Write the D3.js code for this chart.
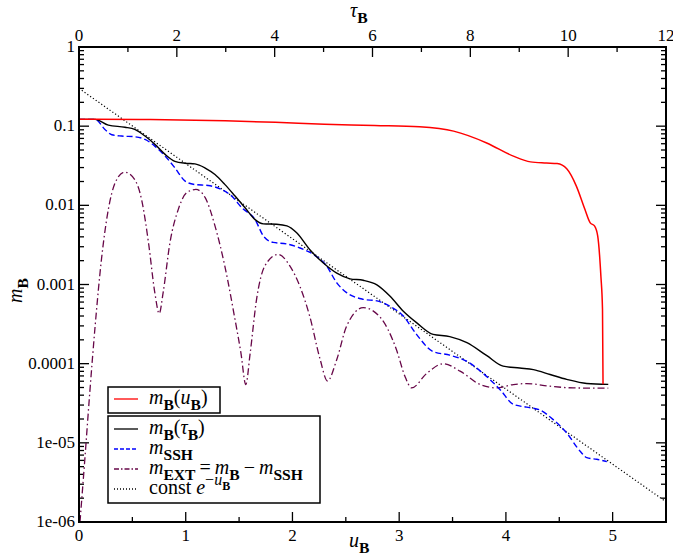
<!DOCTYPE html>
<html>
<head>
<meta charset="utf-8">
<script src="https://cdn.jsdelivr.net/npm/d3@7"></script>
<style>
  body { margin: 0; background: #fff; }
</style>
</head>
<body>
<div id="chart"></div>
<script>
// m_B against u_B (bottom axis)
var redU = [0, 0.15, 0.67, 1.37, 1.84, 2.30, 2.77, 3.19, 3.51, 3.82, 4.07, 4.23, 4.38, 4.48, 4.57, 4.66, 4.74, 4.79, 4.83, 4.86, 4.89, 4.905, 4.91];
var redM = [0.122, 0.122, 0.121, 0.117, 0.112, 0.106, 0.102, 0.098, 0.0866, 0.0614, 0.0418, 0.0354, 0.0343, 0.0337, 0.0289, 0.0175, 0.0089, 0.006, 0.0055, 0.0041, 0.00127, 0.00049, 0.000055];

// curves against tau_B (top axis)
var blackTau = [0, 0.33, 0.60, 0.94, 1.14, 1.35, 1.55, 1.76, 1.96, 2.17, 2.37, 2.58, 2.78, 2.98, 3.19, 3.39, 3.60, 3.77, 4.04, 4.25, 4.45, 4.72, 4.99, 5.27, 5.54, 5.81, 6.09, 6.36, 6.63, 6.90, 7.24, 7.58, 7.93, 8.33, 8.67, 9.01, 9.29, 9.63, 9.97, 10.38, 10.82];
var blackM = [0.122, 0.122, 0.103, 0.097, 0.091, 0.075, 0.059, 0.044, 0.036, 0.034, 0.0334, 0.0296, 0.0245, 0.0184, 0.0131, 0.0094, 0.0066, 0.00584, 0.00576, 0.0055, 0.0045, 0.00275, 0.00188, 0.00139, 0.00118, 0.00113, 0.00099, 0.00071, 0.00046, 0.00033, 0.000234, 0.00022, 0.000184, 0.000127, 0.000093, 0.000088, 0.000084, 0.000073, 0.0000633, 0.0000562, 0.0000548];

var sshTau = [0, 0.33, 0.53, 0.67, 0.87, 1.14, 1.35, 1.55, 1.76, 1.96, 2.17, 2.37, 2.64, 2.92, 3.12, 3.33, 3.60, 3.77, 3.97, 4.25, 4.52, 4.79, 5.06, 5.27, 5.47, 5.81, 6.09, 6.36, 6.63, 6.90, 7.24, 7.58, 7.93, 8.26, 8.61, 8.88, 9.15, 9.42, 9.70, 9.97, 10.24, 10.38, 10.58, 10.79];
var sshM = [0.122, 0.122, 0.091, 0.078, 0.075, 0.0735, 0.068, 0.056, 0.042, 0.0298, 0.0202, 0.0183, 0.0178, 0.0158, 0.0131, 0.0093, 0.0066, 0.0041, 0.0034, 0.00325, 0.00289, 0.0024, 0.00172, 0.00105, 0.00079, 0.00065, 0.00062, 0.00053, 0.0004, 0.000234, 0.000142, 0.000128, 0.000107, 0.0000755, 0.0000469, 0.0000306, 0.0000282, 0.000026, 0.0000195, 0.0000133, 0.0000079, 0.0000065, 0.0000062, 0.0000058];

var extTau = [0.02, 0.12, 0.22, 0.33, 0.46, 0.60, 0.74, 0.93, 1.14, 1.28, 1.42, 1.55, 1.64, 1.72, 1.86, 2.03, 2.20, 2.39, 2.58, 2.78, 2.98, 3.19, 3.31, 3.41, 3.50, 3.63, 3.80, 4.07, 4.31, 4.72, 4.93, 5.08, 5.27, 5.47, 5.81, 6.15, 6.49, 6.66, 6.80, 7.11, 7.45, 7.79, 8.20, 8.54, 8.88, 9.15, 9.63, 10.10, 10.82];
var extM = [1e-6, 6.3e-6, 4.3e-5, 3.0e-4, 0.0021, 0.0089, 0.0193, 0.0263, 0.0211, 0.0118, 0.0034, 0.00079, 0.00043, 0.00079, 0.0034, 0.0089, 0.0144, 0.0159, 0.0125, 0.0055, 0.00172, 0.00036, 0.000137, 0.0000545, 0.000137, 0.00065, 0.00172, 0.0024, 0.00172, 0.00039, 0.000113, 0.0000604, 0.000113, 0.000297, 0.00051, 0.00039, 0.00015, 0.00007, 0.0000494, 0.0000755, 0.0001, 0.0000805, 0.0000545, 0.0000494, 0.0000545, 0.000056, 0.0000519, 0.0000494, 0.000049];

// straight dotted guide, end points
var expTau = [0, 12];
var expM = [0.30, 1.8e-6];

var uTicks = [0, 1, 2, 3, 4, 5];
var tauTicks = [0, 2, 4, 6, 8, 10, 12];
var mTicks = [1, 0.1, 0.01, 0.001, 0.0001, 1e-5, 1e-6];
var mTickLabels = ["1", "0.1", "0.01", "0.001", "0.0001", "1e-05", "1e-06"];

var W = 673, H = 558;
// note: "top" is taken by window.top, so use plot* names
var plotL = 79, plotR = 666, plotT = 47, plotB = 522;
var serif = "'Liberation Serif', 'Times New Roman', Times, 'DejaVu Serif', serif";

var svg = d3.select("#chart").append("svg")
    .attr("width", W)
    .attr("height", H)
    .attr("font-family", serif);

var xU = d3.scaleLinear().domain([0, 5.5]).range([plotL, plotR]);
var xT = d3.scaleLinear().domain([0, 12]).range([plotL, plotR]);
var y = d3.scaleLog().domain([1e-6, 1]).range([plotB, plotT]);

svg.append("clipPath").attr("id", "plotclip")
  .append("rect")
    .attr("x", plotL).attr("y", plotT)
    .attr("width", plotR - plotL).attr("height", plotB - plotT);

// ticks, all pointing inward
var ticks = svg.append("g").attr("stroke", "#000").attr("stroke-width", 1.3);
function isDecade(v) {
  var l = Math.log10(v);
  return Math.abs(l - Math.round(l)) < 1e-9;
}
y.ticks().forEach(function (v) {
  var len = isDecade(v) ? 10 : 5;
  ticks.append("line").attr("x1", plotL).attr("x2", plotL + len).attr("y1", y(v)).attr("y2", y(v));
  ticks.append("line").attr("x1", plotR).attr("x2", plotR - len).attr("y1", y(v)).attr("y2", y(v));
});
d3.range(0, 5.51, 0.5).forEach(function (v) {
  var len = (v % 1 === 0) ? 10 : 5;
  ticks.append("line").attr("x1", xU(v)).attr("x2", xU(v)).attr("y1", plotB).attr("y2", plotB - len);
});
d3.range(0, 12.01, 1).forEach(function (v) {
  var len = (v % 2 === 0) ? 10 : 5;
  ticks.append("line").attr("x1", xT(v)).attr("x2", xT(v)).attr("y1", plotT).attr("y2", plotT + len);
});

// curves
var curves = svg.append("g").attr("clip-path", "url(#plotclip)").attr("fill", "none");
function drawCurve(xs, ys, sx, color, dash, width) {
  var line = d3.line()
    .x(function (d) { return sx(d[0]); })
    .y(function (d) { return y(d[1]); })
    .curve(d3.curveMonotoneX);
  curves.append("path")
    .datum(d3.zip(xs, ys))
    .attr("d", line)
    .attr("stroke", color)
    .attr("stroke-width", width)
    .attr("stroke-dasharray", dash);
}
drawCurve(expTau, expM, xT, "#000", "1.2,2.2", 1.2);
drawCurve(extTau, extM, xT, "#670748", "7,3,1.5,3", 1.3);
drawCurve(sshTau, sshM, xT, "#0000ff", "6,3", 1.4);
drawCurve(blackTau, blackM, xT, "#000", null, 1.4);
drawCurve(redU, redM, xU, "#ff0000", null, 1.5);

// frame
svg.append("rect")
    .attr("x", plotL).attr("y", plotT)
    .attr("width", plotR - plotL).attr("height", plotB - plotT)
    .attr("fill", "none").attr("stroke", "#000").attr("stroke-width", 2);

// tick labels
svg.append("g").selectAll("text").data(uTicks).join("text")
    .attr("x", function (d) { return xU(d); })
    .attr("y", plotB + 19)
    .attr("text-anchor", "middle")
    .attr("font-size", 17)
    .text(function (d) { return d; });
svg.append("g").selectAll("text").data(tauTicks).join("text")
    .attr("x", function (d) { return xT(d); })
    .attr("y", plotT - 6)
    .attr("text-anchor", "middle")
    .attr("font-size", 17)
    .text(function (d) { return d; });
svg.append("g").selectAll("text").data(mTicks).join("text")
    .attr("x", plotL - 4)
    .attr("y", function (d) { return y(d) + 5; })
    .attr("text-anchor", "end")
    .attr("font-size", 17)
    .text(function (d, i) { return mTickLabels[i]; });

// math-ish text: parts are [string, kind] with kind i (italic), r (roman), sub, sup...
function mathText(sel, parts, size) {
  var shift = 0;
  parts.forEach(function (p) {
    var t = sel.append("tspan").text(p[0]);
    var target = 0;
    if (p[1] === "i") t.attr("font-style", "italic");
    if (p[1] === "sub") {
      target = size * 0.28;
      t.attr("font-size", size * 0.78).attr("font-weight", "bold");
    }
    if (p[1] === "sup") {
      target = -size * 0.45;
      t.attr("font-size", size * 0.8);
    }
    if (p[1] === "supi") {
      target = -size * 0.45;
      t.attr("font-size", size * 0.8).attr("font-style", "italic");
    }
    if (p[1] === "supsub") {
      target = -size * 0.22;
      t.attr("font-size", size * 0.6).attr("font-weight", "bold");
    }
    if (target !== shift) t.attr("dy", target - shift);
    shift = target;
  });
  return sel;
}

// axis titles
mathText(svg.append("text").attr("x", 350).attr("y", 17).attr("font-size", 20),
  [["\u03c4", "i"], ["B", "sub"]], 20);
mathText(svg.append("text").attr("x", 349).attr("y", 547).attr("font-size", 20),
  [["u", "i"], ["B", "sub"]], 20);
mathText(svg.append("text").attr("transform", "translate(22,303) rotate(-90)").attr("font-size", 20),
  [["m", "i"], ["B", "sub"]], 20);

// legends
var lg = svg.append("g");
lg.append("rect").attr("x", 108).attr("y", 387).attr("width", 112).attr("height", 26)
    .attr("fill", "#fff").attr("stroke", "#000").attr("stroke-width", 1.5);
lg.append("rect").attr("x", 108).attr("y", 416).attr("width", 212).attr("height", 87)
    .attr("fill", "#fff").attr("stroke", "#000").attr("stroke-width", 1.5);

var legendRows = [
  { y: 399, color: "#ff0000", dash: null, parts: [["m", "i"], ["B", "sub"], ["(", "r"], ["u", "i"], ["B", "sub"], [")", "r"]] },
  { y: 429, color: "#000", dash: null, parts: [["m", "i"], ["B", "sub"], ["(", "r"], ["\u03c4", "i"], ["B", "sub"], [")", "r"]] },
  { y: 449, color: "#0000ff", dash: "4,2", parts: [["m", "i"], ["SSH", "sub"]] },
  { y: 469, color: "#670748", dash: "5,2,1.5,2", parts: [["m", "i"], ["EXT", "sub"], ["\u2009=\u2009", "r"], ["m", "i"], ["B", "sub"], ["\u2009\u2212\u2009", "r"], ["m", "i"], ["SSH", "sub"]] },
  { y: 489, color: "#000", dash: "1,2", parts: [["const ", "r"], ["e", "i"], ["\u2212", "sup"], ["u", "supi"], ["B", "supsub"]] }
];
legendRows.forEach(function (r) {
  lg.append("line")
      .attr("x1", 114).attr("x2", 138).attr("y1", r.y).attr("y2", r.y)
      .attr("stroke", r.color).attr("stroke-width", 1.3)
      .attr("stroke-dasharray", r.dash);
  mathText(lg.append("text").attr("x", 149).attr("y", r.y + 5).attr("font-size", 20), r.parts, 20);
});
</script>
</body>
</html>
